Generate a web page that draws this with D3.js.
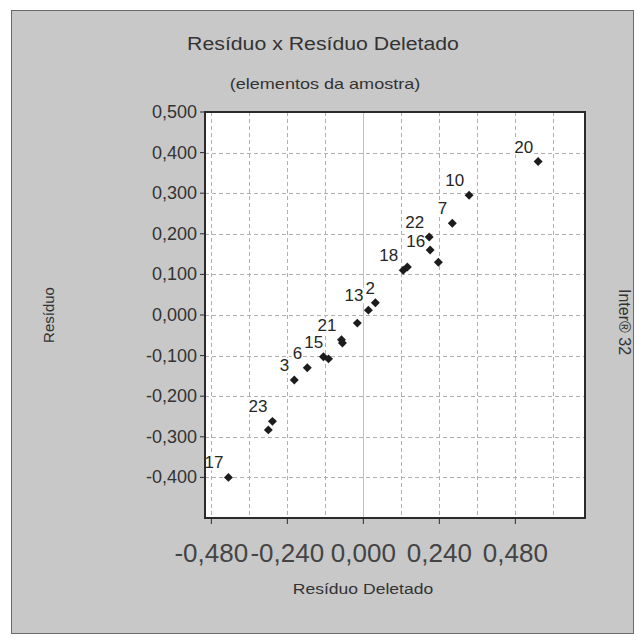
<!DOCTYPE html>
<html>
<head>
<meta charset="utf-8">
<script src="https://cdn.jsdelivr.net/npm/d3@7"></script>
<style>
  html, body { margin: 0; padding: 0; background: #ffffff; }
  svg { display: block; }
  text { font-family: "Liberation Sans", Arial, sans-serif; }
</style>
</head>
<body>
<svg id="chart" width="637" height="641"></svg>
<script>
// Sample elements: deleted residual (x) vs. residual (y)
const pointIds = ["17", "23", "", "3", "6", "15", "", "21", "", "", "2", "13", "18", "", "16", "22", "", "7", "10", "20"];
const deletedResiduals = [-0.426, -0.287, -0.300, -0.218, -0.177, -0.126, -0.110, -0.069, -0.066, -0.019, 0.038, 0.016, 0.126, 0.139, 0.211, 0.208, 0.237, 0.281, 0.334, 0.552];
const residuals = [-0.400, -0.262, -0.283, -0.160, -0.130, -0.103, -0.108, -0.061, -0.069, -0.020, 0.030, 0.012, 0.110, 0.118, 0.160, 0.192, 0.130, 0.226, 0.295, 0.378];

const xTickValues = [-0.48, -0.24, 0, 0.24, 0.48];
const xGridValues = [-0.48, -0.36, -0.24, -0.12, 0.12, 0.24, 0.36, 0.48, 0.60];
const yTickValues = [-0.4, -0.3, -0.2, -0.1, 0, 0.1, 0.2, 0.3, 0.4, 0.5];

const titleText = "Resíduo x Resíduo Deletado";
const subtitleText = "(elementos da amostra)";
const xTitleText = "Resíduo Deletado";
const yTitleText = "Resíduo";
const sideText = "Inter® 32";

const svg = d3.select("#chart");
const fmt = v => d3.format(".3f")(v).replace("−", "-").replace(".", ",");

// Outer panel
svg.append("rect")
  .attr("x", 11.5).attr("y", 10.5).attr("width", 622).attr("height", 623)
  .attr("fill", "#c8c8c8").attr("stroke", "#6a6a6a").attr("stroke-width", 1);

const plot = { left: 205, top: 112, right: 585, bottom: 518 };

const x = d3.scaleLinear().domain([-0.5, 0.7]).range([plot.left, plot.right]);
const y = d3.scaleLinear().domain([-0.5, 0.5]).range([plot.bottom, plot.top]);

// Plot background
svg.append("rect")
  .attr("x", plot.left).attr("y", plot.top)
  .attr("width", plot.right - plot.left).attr("height", plot.bottom - plot.top)
  .attr("fill", "#ffffff");

// Grid
const grid = svg.append("g").attr("stroke", "#b0b0b0").attr("stroke-width", 1);
grid.selectAll("line.gy").data(yTickValues.filter(v => v < 0.5)).join("line")
  .attr("x1", plot.left).attr("x2", plot.right)
  .attr("y1", d => Math.round(y(d)) + 0.5).attr("y2", d => Math.round(y(d)) + 0.5)
  .attr("stroke-dasharray", "4,3");
grid.selectAll("line.gx").data(xGridValues).join("line")
  .attr("y1", plot.top).attr("y2", plot.bottom)
  .attr("x1", d => Math.round(x(d)) + 0.5).attr("x2", d => Math.round(x(d)) + 0.5)
  .attr("stroke-dasharray", "4,3");
grid.append("line")
  .attr("y1", plot.top).attr("y2", plot.bottom)
  .attr("x1", Math.round(x(0)) + 0.5).attr("x2", Math.round(x(0)) + 0.5)
  .attr("stroke", "#c0c0c0");

// Clip for labels inside the plot area
svg.append("clipPath").attr("id", "plotClip")
  .append("rect")
  .attr("x", plot.left).attr("y", plot.top)
  .attr("width", plot.right - plot.left).attr("height", plot.bottom - plot.top);

const data = pointIds.map((id, i) => ({ id, dx: deletedResiduals[i], r: residuals[i] }));

// Point labels with white boxes; a label that collides with an already placed
// one is nudged right or down (whichever needs the smaller move).
const labelLayer = svg.append("g").attr("clip-path", "url(#plotClip)");
const placed = [];
data.filter(d => d.id)
  .sort((a, b) => a.dx - b.dx)
  .forEach(d => {
    const g = labelLayer.append("g");
    const t = g.append("text")
      .attr("x", x(d.dx) - 5).attr("y", y(d.r) - 9)
      .attr("text-anchor", "end")
      .attr("font-size", 17)
      .attr("fill", "#262626")
      .text(d.id);
    const bb = t.node().getBBox();
    const box = { x0: bb.x, y0: bb.y + 2, x1: bb.x + bb.width, y1: bb.y + bb.height - 2 };
    placed.forEach(p => {
      const ox = Math.min(box.x1, p.x1) - Math.max(box.x0, p.x0);
      const oy = Math.min(box.y1, p.y1) - Math.max(box.y0, p.y0);
      if (ox > 0 && oy > 0) {
        if (ox <= oy) {
          const s = p.x1 + 2 - box.x0;
          box.x0 += s; box.x1 += s;
          t.attr("x", +t.attr("x") + s);
        } else {
          const s = p.y1 + 4 - box.y0;
          box.y0 += s; box.y1 += s;
          t.attr("y", +t.attr("y") + s);
        }
      }
    });
    placed.push(box);
    g.insert("rect", "text")
      .attr("x", box.x0 - 1).attr("y", box.y0)
      .attr("width", box.x1 - box.x0 + 2).attr("height", box.y1 - box.y0)
      .attr("fill", "#ffffff");
  });

// Markers
svg.append("g").selectAll("path").data(data).join("path")
  .attr("d", d3.symbol().type(d3.symbolSquare).size(40))
  .attr("transform", d => `translate(${x(d.dx)},${y(d.r)}) rotate(45)`)
  .attr("fill", "#1c1c1c");

// Plot frame
svg.append("rect")
  .attr("x", plot.left).attr("y", plot.top)
  .attr("width", plot.right - plot.left).attr("height", plot.bottom - plot.top)
  .attr("fill", "none").attr("stroke", "#2a2a2a").attr("stroke-width", 2);

// Y axis ticks and labels
const yAxis = svg.append("g");
yAxis.selectAll("line").data(yTickValues).join("line")
  .attr("x1", plot.left - 5).attr("x2", plot.left)
  .attr("y1", d => y(d)).attr("y2", d => y(d))
  .attr("stroke", "#2a2a2a");
yAxis.selectAll("text").data(yTickValues).join("text")
  .attr("x", plot.left - 8).attr("y", d => y(d) + 6)
  .attr("text-anchor", "end").attr("font-size", 18).attr("fill", "#333")
  .text(fmt);

// X axis ticks and labels
const xAxis = svg.append("g");
xAxis.selectAll("line").data(xTickValues).join("line")
  .attr("x1", d => x(d)).attr("x2", d => x(d))
  .attr("y1", plot.bottom).attr("y2", plot.bottom + 6)
  .attr("stroke", "#2a2a2a");
xAxis.selectAll("text").data(xTickValues).join("text")
  .attr("x", d => x(d)).attr("y", 562)
  .attr("text-anchor", "middle").attr("font-size", 26).attr("fill", "#444")
  .text(fmt);

// Titles (the chart's captions use a wide face, so they are stretched horizontally)
function caption(text, cx, cy, size, sx) {
  svg.append("text")
    .attr("transform", `translate(${cx},${cy}) scale(${sx},1)`)
    .attr("text-anchor", "middle").attr("font-size", size).attr("fill", "#333")
    .text(text);
}
caption(titleText, 323, 50, 19, 1.12);
caption(subtitleText, 325, 89, 14, 1.29);
caption(xTitleText, 363, 594, 15, 1.17);

svg.append("text")
  .attr("transform", "translate(54,315) rotate(-90)")
  .attr("text-anchor", "middle").attr("font-size", 15).attr("fill", "#333")
  .text(yTitleText);
svg.append("text")
  .attr("transform", "translate(619,322) rotate(90)")
  .attr("text-anchor", "middle").attr("font-size", 16).attr("fill", "#333")
  .text(sideText);
</script>
</body>
</html>
